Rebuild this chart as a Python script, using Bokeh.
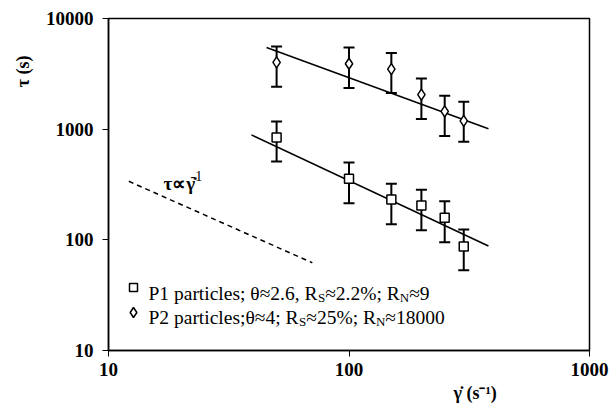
from bokeh.plotting import figure
from bokeh.models import Range1d, FixedTicker, PrintfTickFormatter, Title
from bokeh.core.properties import value
from bokeh.embed import file_html
from bokeh.resources import INLINE

# ---------------- data ----------------
shear_rate = [50, 100, 150, 200, 250, 300]

p1_tau = [843, 357, 231, 204, 158, 87]
p1_upper = [1175, 499, 322, 283, 223, 124]
p1_lower = [509, 214, 138, 122, 95, 53]

p2_tau = [4010, 3900, 3490, 2050, 1448, 1190]
p2_upper = [5590, 5470, 4880, 2875, 2005, 1770]
p2_lower = [2420, 2355, 2125, 1236, 869, 771]

p1_fit_x = [39.3, 380]
p1_fit_y = [887, 88]
p2_fit_x = [45.4, 380]
p2_fit_y = [5470, 1010]
slope_x = [12.15, 70.4]
slope_y = [338, 62]

x_ticks = [10, 100, 1000]
y_ticks = [10, 100, 1000, 10000]

# ---------------- helpers (page pixel -> data) ----------------
FL, FW, FT, FH = 108.0, 481.0, 18.0, 332.0
def px2x(px):
    return 10 ** (1 + 2 * (px - FL) / FW)
def py2y(py):
    return 10 ** (4 - 3 * (py - FT) / FH)

SERIF = "Liberation Serif"

p = figure(width=610, height=406, x_axis_type="log", y_axis_type="log",
           x_range=Range1d(10, 1000), y_range=Range1d(10, 10000),
           output_backend="svg", toolbar_location=None,
           min_border_left=108, min_border_right=21, min_border_top=18, min_border_bottom=56)
p.grid.visible = False
p.outline_line_color = "black"
p.outline_line_width = 1.5
p.outline_line_alpha = 1.0
p.background_fill_color = "white"
p.border_fill_color = "white"

for ax, ticks in ((p.xaxis, x_ticks), (p.yaxis, y_ticks)):
    ax.ticker = FixedTicker(ticks=ticks, minor_ticks=[])
    ax.formatter = PrintfTickFormatter(format="%d")
    ax.axis_line_width = 1.5
    ax.axis_line_color = "black"
    ax.major_tick_line_color = "black"
    ax.major_tick_line_width = 1
    ax.major_tick_out = 6
    ax.major_tick_in = 0
    ax.minor_tick_out = 0
    ax.minor_tick_in = 0
    ax.major_label_text_font = SERIF
    ax.major_label_text_font_style = "bold"
    ax.major_label_text_font_size = "19px"
    ax.major_label_text_color = "black"
p.yaxis.major_label_standoff = 9
p.xaxis.major_label_standoff = 6

# axis titles as side titles (not clipped)
p.add_layout(Title(text="τ (s)", align="right", offset=37, standoff=20,
                   text_font=SERIF, text_font_style="bold", text_font_size="18px",
                   text_color="black"), "left")
p.add_layout(Title(text="γ̇ (s⁻¹)", align="left", offset=345, standoff=4,
                   text_font=SERIF, text_font_style="bold", text_font_size="18px",
                   text_color="black"), "below")

# fit lines
p.line(p2_fit_x, p2_fit_y, line_color="black", line_width=1.5)
p.line(p1_fit_x, p1_fit_y, line_color="black", line_width=1.5)
p.line(slope_x, slope_y, line_color="black", line_width=1.5, line_dash="5 4")

# error bars
for tau, up, lo in ((p1_tau, p1_upper, p1_lower), (p2_tau, p2_upper, p2_lower)):
    p.segment(x0=shear_rate, y0=lo, x1=shear_rate, y1=up, line_color="black", line_width=2)
    p.dash(x=shear_rate, y=up, size=11, line_color="black", line_width=2)
    p.dash(x=shear_rate, y=lo, size=11, line_color="black", line_width=2)

p.scatter(shear_rate, p1_tau, marker="square", size=9, fill_color="white",
          line_color="black", line_width=1.5)
p.scatter(shear_rate, p2_tau, marker="diamond", size=11, fill_color="white",
          line_color="black", line_width=1.5)

# ---------------- legend (manual, with subscripts) ----------------
W = {"P": 556, "1": 500, "2": 500, "4": 500, "5": 500, "6": 500, "8": 500, "9": 500, "0": 500,
     " ": 250, "p": 500, "a": 444, "r": 333, "t": 278, "i": 278, "c": 444, "l": 278,
     "e": 444, "s": 389, ";": 278, "θ": 500, "≈": 549, ".": 250, ",": 250, "R": 667,
     "S": 556, "N": 722, "%": 833}
def width(txt, size):
    return sum(W.get(ch, 500) for ch in txt) / 1000.0 * size

MAIN, SUB = 19.5, 13
rows = [
    (287.0, 292.5, "square", 8, [("P1 particles; θ≈2.6, R", MAIN, 0), ("S", SUB, 4), ("≈2.2%; R", MAIN, 0), ("N", SUB, 4), ("≈9", MAIN, 0)]),
    (312.0, 317.0, "diamond", 10, [("P2 particles;θ≈4; R", MAIN, 0), ("S", SUB, 4), ("≈25%; R", MAIN, 0), ("N", SUB, 4), ("≈18000", MAIN, 0)]),
]
for my, base, mk, ms, segs in rows:
    p.scatter([px2x(133)], [py2y(my)], marker=mk, size=ms, fill_color="white",
              line_color="black", line_width=1.5)
    cx = 148.0
    for txt, sz, dy in segs:
        p.text(x=[px2x(cx)], y=[py2y(base + dy)], text=[txt], text_font=value(SERIF),
               text_font_size=f"{sz}px", text_color="black", text_align="left",
               text_baseline="alphabetic")
        cx += width(txt, sz)

# ---------------- annotation tau ~ gamma^-1 ----------------
p.text(x=[px2x(163)], y=[py2y(183)], text=["τ∝γ̇"], text_font=value(SERIF),
       text_font_size="19px", text_font_style="bold", text_color="black",
       text_align="left", text_baseline="alphabetic")
p.text(x=[px2x(190)], y=[py2y(175)], text=["-1"], text_font=value(SERIF),
       text_font_size="14px", text_color="black", text_align="left",
       text_baseline="alphabetic")

open("out.html", "w").write(file_html(p, INLINE))
